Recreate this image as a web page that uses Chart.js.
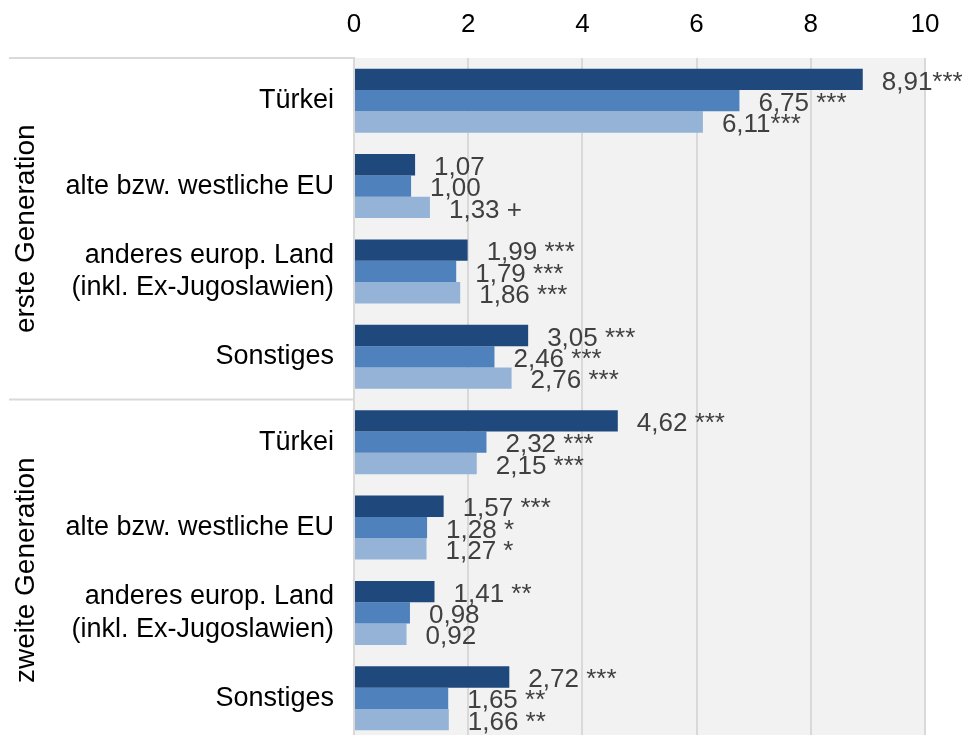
<!DOCTYPE html>
<html>
<head>
<meta charset="utf-8">
<script src="https://cdn.jsdelivr.net/npm/chart.js@4/dist/chart.umd.min.js"></script>
<style>
  html, body { margin: 0; background: #fff; overflow: hidden; }
  /* plot runs a little past the bottom edge of the window */
  #wrap { width: 962px; height: 741px; position: relative; }
</style>
</head>
<body>
<div id="wrap"><canvas id="oddsChart"></canvas></div>
<script>
const categories = [
    "Türkei",
    "alte bzw. westliche EU",
    ["anderes europ. Land", "(inkl. Ex-Jugoslawien)"],
    "Sonstiges",
    "Türkei",
    "alte bzw. westliche EU",
    ["anderes europ. Land", "(inkl. Ex-Jugoslawien)"],
    "Sonstiges"
];
const groups = ["erste Generation", "zweite Generation"];

const modelA = [8.91, 1.07, 1.99, 3.05, 4.62, 1.57, 1.41, 2.72];
const modelB = [6.75, 1.00, 1.79, 2.46, 2.32, 1.28, 0.98, 1.65];
const modelC = [6.11, 1.33, 1.86, 2.76, 2.15, 1.27, 0.92, 1.66];

// significance marks written after each value
const sigA = ["***", "", " ***", " ***", " ***", " ***", " **", " ***"];
const sigB = [" ***", "", " ***", " ***", " ***", " *", "", " **"];
const sigC = ["***", " +", " ***", " ***", " ***", " *", "", " **"];

const xTicks = [0, 2, 4, 6, 8, 10];

const FONT = "'Liberation Sans', Arial, sans-serif";

const fmt = v => v.toFixed(2).replace(".", ",");

const chartDecor = {
    id: "chartDecor",
    beforeDraw(chart) {
        const { ctx, chartArea: a } = chart;
        ctx.save();
        ctx.fillStyle = "#f2f2f2";
        ctx.fillRect(a.left, a.top, a.right - a.left, a.bottom - a.top);
        ctx.restore();
    },
    afterDraw(chart) {
        const { ctx, chartArea: a } = chart;
        const y = chart.scales.y;
        const mid = (y.getPixelForTick(3) + y.getPixelForTick(4)) / 2;

        // separator lines on the left side
        ctx.save();
        ctx.strokeStyle = "#d9d9d9";
        ctx.lineWidth = 2;
        [a.top, mid].forEach(py => {
            ctx.beginPath();
            ctx.moveTo(9, py);
            ctx.lineTo(a.left, py);
            ctx.stroke();
        });

        // rotated group labels
        ctx.fillStyle = "#000";
        ctx.font = "28px " + FONT;
        ctx.textAlign = "center";
        ctx.textBaseline = "middle";
        [[a.top, mid], [mid, a.bottom]].forEach((r, i) => {
            ctx.save();
            ctx.translate(26, (r[0] + r[1]) / 2);
            ctx.rotate(-Math.PI / 2);
            ctx.fillText(groups[i], 0, 0);
            ctx.restore();
        });

        // value labels next to the bars
        ctx.fillStyle = "#404040";
        ctx.font = "26px " + FONT;
        ctx.textAlign = "left";
        chart.data.datasets.forEach((ds, di) => {
            const meta = chart.getDatasetMeta(di);
            meta.data.forEach((bar, i) => {
                ctx.fillText(fmt(ds.data[i]) + ds.sig[i], bar.x + 19, bar.y + 3);
            });
        });
        ctx.restore();
    }
};

new Chart(document.getElementById("oddsChart"), {
    type: "bar",
    data: {
        labels: categories,
        datasets: [
            { label: "Modell 1", data: modelA, sig: sigA, backgroundColor: "#1f497d" },
            { label: "Modell 2", data: modelB, sig: sigB, backgroundColor: "#4f81bd" },
            { label: "Modell 3", data: modelC, sig: sigC, backgroundColor: "#95b3d7" }
        ]
    },
    options: {
        indexAxis: "y",
        responsive: true,
        maintainAspectRatio: false,
        animation: false,
        layout: { padding: { left: 0, right: 37, top: 0, bottom: 0 } },
        datasets: { bar: { categoryPercentage: 0.75, barPercentage: 1.0 } },
        plugins: { legend: { display: false }, tooltip: { enabled: false } },
        scales: {
            x: {
                position: "top",
                min: 0,
                max: 10,
                afterBuildTicks: s => { s.ticks = xTicks.map(v => ({ value: v })); },
                afterFit: s => { s.height = 58; s.paddingLeft = 0; s.paddingRight = 0; },
                ticks: { color: "#000", font: { family: FONT, size: 26 }, padding: 18 },
                grid: { color: "#d9d9d9", lineWidth: 2, drawTicks: false },
                border: { display: false }
            },
            y: {
                afterFit: s => { s.width = 354; s.paddingTop = 0; s.paddingBottom = 0; },
                ticks: { color: "#000", font: { family: FONT, size: 27, lineHeight: 1.2 }, padding: 20 },
                grid: { display: false, drawTicks: false },
                border: { display: true, color: "#d9d9d9", width: 2 }
            }
        }
    },
    plugins: [chartDecor]
});
</script>
</body>
</html>
